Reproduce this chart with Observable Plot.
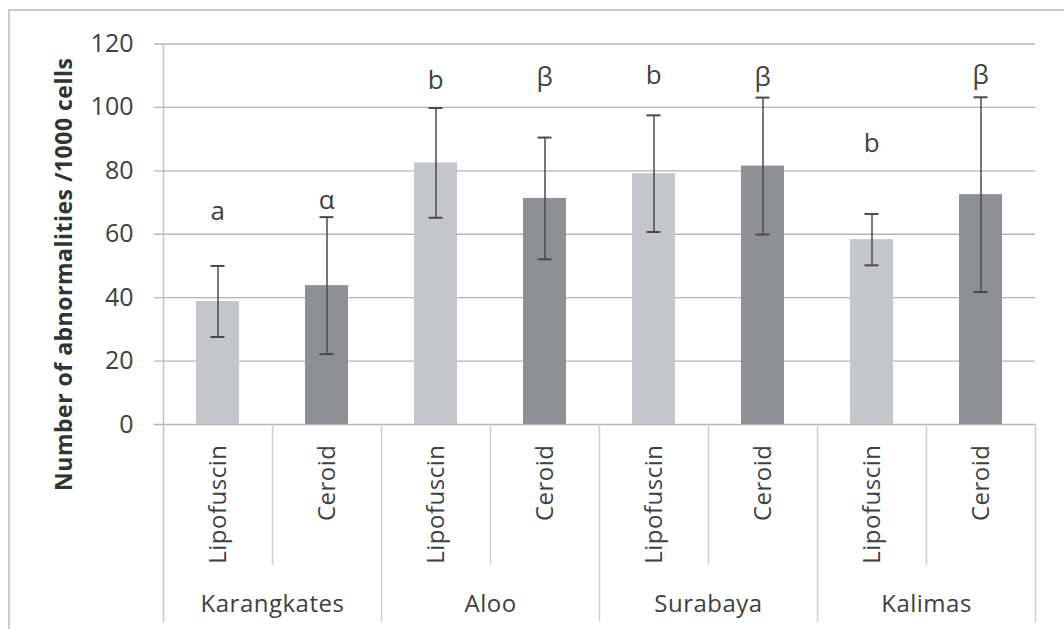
<!DOCTYPE html>
<html>
<head>
<meta charset="utf-8">
<script src="https://cdn.jsdelivr.net/npm/d3@7"></script>
<script src="https://cdn.jsdelivr.net/npm/@observablehq/plot@0.6"></script>
<style>
  html, body { margin: 0; padding: 0; background: #fff; }
  #wrap { position: relative; width: 1064px; height: 629px; overflow: hidden; }
  #frame { position: absolute; left: 8px; top: 9px; width: 1200px; height: 800px;
           border-left: 2px solid #c9c9c9; border-top: 2px solid #c9c9c9; }
  #chart { position: absolute; left: 0; top: 0; }
</style>
</head>
<body>
<div id="wrap"><div id="frame"></div><div id="chart"></div></div>
<script>
// ---- data ----
const sites = ["Karangkates", "Aloo", "Surabaya", "Kalimas"];
const types = ["Lipofuscin", "Ceroid"];
const means = [38.8, 43.8, 82.5, 71.3, 79.1, 81.5, 58.3, 72.5];
const sds = [11.2, 21.6, 17.3, 19.2, 18.4, 21.6, 8.1, 30.7];
const letters = ["a", "α", "b", "β", "b", "β", "b", "β"];
const letterY = [67, 70.5, 108.3, 109.3, 109.9, 109.3, 88.5, 109.9];
const yTicks = [0, 20, 40, 60, 80, 100, 120];
const yTitle = "Number of abnormalities /1000 cells";

const rows = sites.flatMap((site, si) => types.map((type, ti) => {
  const k = si * types.length + ti;
  return {site, type, k, mean: means[k], sd: sds[k], letter: letters[k], ly: letterY[k]};
}));
const bounds = d3.range(rows.length + 1);
const groupRows = sites.map((site, si) => ({site, si}));

const fill = {Lipofuscin: "#c5c6c9", Ceroid: "#8f9094"};
const ink = "#404040";
const font = "'Open Sans', 'Noto Sans', sans-serif";

const chart = Plot.plot({
  width: 1064,
  height: 629,
  marginLeft: 163,
  marginRight: 29,
  marginTop: 43.5,
  marginBottom: 205,
  style: {fontFamily: font, background: "transparent", overflow: "visible"},
  x: {domain: [0, rows.length], axis: null},
  y: {domain: [0, 120], axis: null},
  marks: [
    // gridlines with left tick stubs
    Plot.ruleY(yTicks, {y: d => d, stroke: "#b4b4b4", strokeWidth: 1.4, insetLeft: -9}),
    // bars
    Plot.rectY(rows, {x1: d => d.k, x2: d => d.k + 1, y1: 0, y2: "mean",
      fill: d => fill[d.type], insetLeft: 33, insetRight: 33}),
    // y axis line extending down as outer separator
    Plot.ruleX([0], {x: d => d, y1: 120, y2: 0, insetBottom: -198, stroke: "#c2c2c2", strokeWidth: 1.5}),
    // separators within groups
    Plot.ruleX(bounds.filter(b => b % 2 === 1), {x: d => d, y1: 0, y2: 0, insetBottom: -141, stroke: "#cfcfcf", strokeWidth: 1.5}),
    // separators between groups
    Plot.ruleX(bounds.filter(b => b % 2 === 0 && b > 0), {x: d => d, y1: 0, y2: 0, insetBottom: -198, stroke: "#cfcfcf", strokeWidth: 1.5}),
    // error bars
    Plot.ruleX(rows, {x: d => d.k + 0.5, y1: d => d.mean - d.sd, y2: d => d.mean + d.sd, stroke: "#4a4a4a", strokeWidth: 1.5}),
    Plot.ruleY(rows, {x1: d => d.k, x2: d => d.k + 1, y: d => d.mean - d.sd, insetLeft: 47.5, insetRight: 47.5, stroke: "#4a4a4a", strokeWidth: 2}),
    Plot.ruleY(rows, {x1: d => d.k, x2: d => d.k + 1, y: d => d.mean + d.sd, insetLeft: 47.5, insetRight: 47.5, stroke: "#4a4a4a", strokeWidth: 2}),
    // significance letters
    Plot.text(rows, {x: d => d.k + 0.5, y: "ly", text: "letter", fontSize: 26, fill: ink}),
    // y tick labels
    Plot.axisY(yTicks, {tickSize: 0, tickPadding: 30, fontSize: 25, color: ink, label: null}),
    // category labels (rotated)
    Plot.text(rows, {x: d => d.k + 0.5, y: 0, text: "type", rotate: -90, textAnchor: "end", dy: 20, fontSize: 24, fill: ink, style: "letter-spacing:0.5px"}),
    // group labels
    Plot.text(groupRows, {x: d => d.si * 2 + 1, y: 0, text: "site", dy: 180, fontSize: 24, fill: ink}),
    // y title
    Plot.text([yTitle], {frameAnchor: "left", text: d => d, rotate: -90, textAnchor: "middle", dx: -99, dy: 40, fontSize: 23, fontWeight: "bold", fill: "#333"})
  ]
});
chart.querySelectorAll("text").forEach(t => {});
document.getElementById("chart").appendChild(chart);
// slight letter spacing on group and category labels like the reference
d3.select(chart).selectAll("g[aria-label=text] text").style("letter-spacing", "0.5px");
</script>
</body>
</html>
